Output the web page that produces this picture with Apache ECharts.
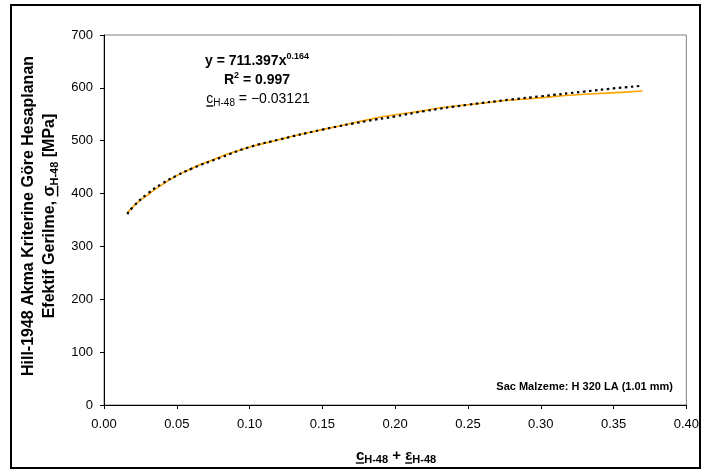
<!DOCTYPE html>
<html><head><meta charset="utf-8">
<script src="https://cdn.jsdelivr.net/npm/echarts@6/dist/echarts.min.js"></script>
<style>html,body{margin:0;padding:0;background:#fff}#c{width:702px;height:471px}</style>
</head><body><div id="c"></div>
<script>
// measured curve: x = c_H-48 + eps_H-48, y = effective stress (MPa)
const measuredX = [0.016,0.019,0.022,0.026,0.030,0.035,0.040,0.045,0.050,0.055,0.060,0.066,0.075,0.083,0.092,0.100,0.110,0.120,0.130,0.140,0.150,0.160,0.170,0.180,0.190,0.200,0.210,0.220,0.230,0.246,0.260,0.275,0.290,0.303,0.315,0.330,0.345,0.358,0.370];
const measuredY = [364,372,381,390,397,408,417,426,434,441,447,455,464,473,481,488,495,502,509,515,521,527,533,539,545,549,553,557,562,567,571,576,579,582,585,588,590,592,594];
// power trendline
const trendX = [0.016,0.020,0.030,0.040,0.050,0.060,0.080,0.100,0.120,0.150,0.180,0.200,0.220,0.250,0.280,0.300,0.330,0.350,0.370];
const trendY = [361,375,400,419,434,447,468,488,502,521,537,546,556,568,578,584,593,599,604];
const xTicks = {min:0, max:0.4, interval:0.05};
const yTicks = {min:0, max:700, interval:100};

const FONT = 'Arial, "Liberation Sans", sans-serif';
const mctx = document.createElement('canvas').getContext('2d');
function fontStr(p){ return (p.bold?'bold ':'') + p.size + 'px ' + FONT; }
function measure(p){ mctx.font = fontStr(p); return mctx.measureText(p.t).width; }
function layout(parts, cx, by, align){
  const widths = parts.map(measure);
  const total = widths.reduce((a,b)=>a+b,0);
  let x = align==='right' ? cx - total : (align==='left' ? cx : cx - total/2);
  const els = [];
  parts.forEach((p,i)=>{
    const dy = p.dy||0;
    els.push({type:'text', x:x, y: by + dy - 0.35*p.size, style:{text:p.t, font:fontStr(p), fill:'#000', align:'left', verticalAlign:'middle'}, silent:true});
    if(p.u){
      els.push({type:'line', shape:{x1:x, y1:by+dy+2, x2:x+widths[i], y2:by+dy+2}, style:{stroke:'#000', lineWidth:1.4}, silent:true});
    }
    x += widths[i];
  });
  return els;
}

const eq1 = layout([{t:'y = 711.397x',size:14,bold:true},{t:'0.164',size:9,bold:true,dy:-6}], 257, 66);
const eq2 = layout([{t:'R',size:14,bold:true},{t:'2',size:9,bold:true,dy:-6},{t:' = 0.997',size:14,bold:true}], 257, 85);
const eq3 = layout([{t:'c',size:14,u:true},{t:'H-48',size:10,dy:3},{t:' = \u22120.03121',size:14}], 258, 104);
const xt = layout([{t:'c',size:15,bold:true,u:true},{t:'H-48',size:11,bold:true,dy:3},{t:' + ',size:15,bold:true},{t:'\u03b5',size:15,bold:true,u:true},{t:'H-48',size:11,bold:true,dy:3}], 396, 461);
const note = layout([{t:'Sac Malzeme: H 320 LA (1.01 mm)',size:11,bold:true}], 673, 391, 'right');
const yt1 = layout([{t:'Hill-1948 Akma Kriterine G\u00f6re Hesaplanan',size:16,bold:true}], 0, 0.35*16);
const yt2 = layout([{t:'Efektif Gerilme, ',size:16,bold:true},{t:'\u03c3',size:16,bold:true,u:true},{t:'H-48',size:11,bold:true,dy:3},{t:' [MPa]',size:16,bold:true}], 0, 0.35*16);

const chart = echarts.init(document.getElementById('c'), null, {renderer:'canvas'});
chart.setOption({
  animation:false,
  backgroundColor:'#fff',
  grid:{left:104, right:14, top:35, bottom:66, show:true, borderColor:'#808080', borderWidth:1, backgroundColor:'transparent'},
  xAxis:{type:'value', min:xTicks.min, max:xTicks.max, interval:xTicks.interval,
    axisLine:{show:true, onZero:false, lineStyle:{color:'#000', width:1}},
    axisTick:{show:true, length:4, lineStyle:{color:'#000'}},
    splitLine:{show:false},
    axisLabel:{color:'#000', fontSize:13, fontFamily:FONT, margin:13, formatter:v=>v.toFixed(2)}},
  yAxis:{type:'value', min:yTicks.min, max:yTicks.max, interval:yTicks.interval,
    axisLine:{show:true, onZero:false, lineStyle:{color:'#000', width:1}},
    axisTick:{show:true, length:4, lineStyle:{color:'#000'}},
    splitLine:{show:false},
    axisLabel:{color:'#000', fontSize:13, fontFamily:FONT, margin:11}},
  series:[
    {type:'line', data:measuredX.map((x,i)=>[x,measuredY[i]]), showSymbol:false, smooth:false,
     lineStyle:{color:'#FFA500', width:1.6}, z:2},
    {type:'line', data:trendX.map((x,i)=>[x,trendY[i]]), showSymbol:false, smooth:true,
     lineStyle:{color:'#000', width:2.2, type:[2.5,3.5]}, z:3}
  ],
  graphic:[
    {type:'rect', shape:{x:11, y:5, width:689, height:463}, style:{fill:'none', stroke:'#000', lineWidth:2}, silent:true, z:-1},
    ...eq1, ...eq2, ...eq3, ...xt, ...note,
    {type:'group', x:29, y:216, rotation:Math.PI/2, children:yt1},
    {type:'group', x:50, y:216, rotation:Math.PI/2, children:yt2}
  ]
});
</script></body></html>
